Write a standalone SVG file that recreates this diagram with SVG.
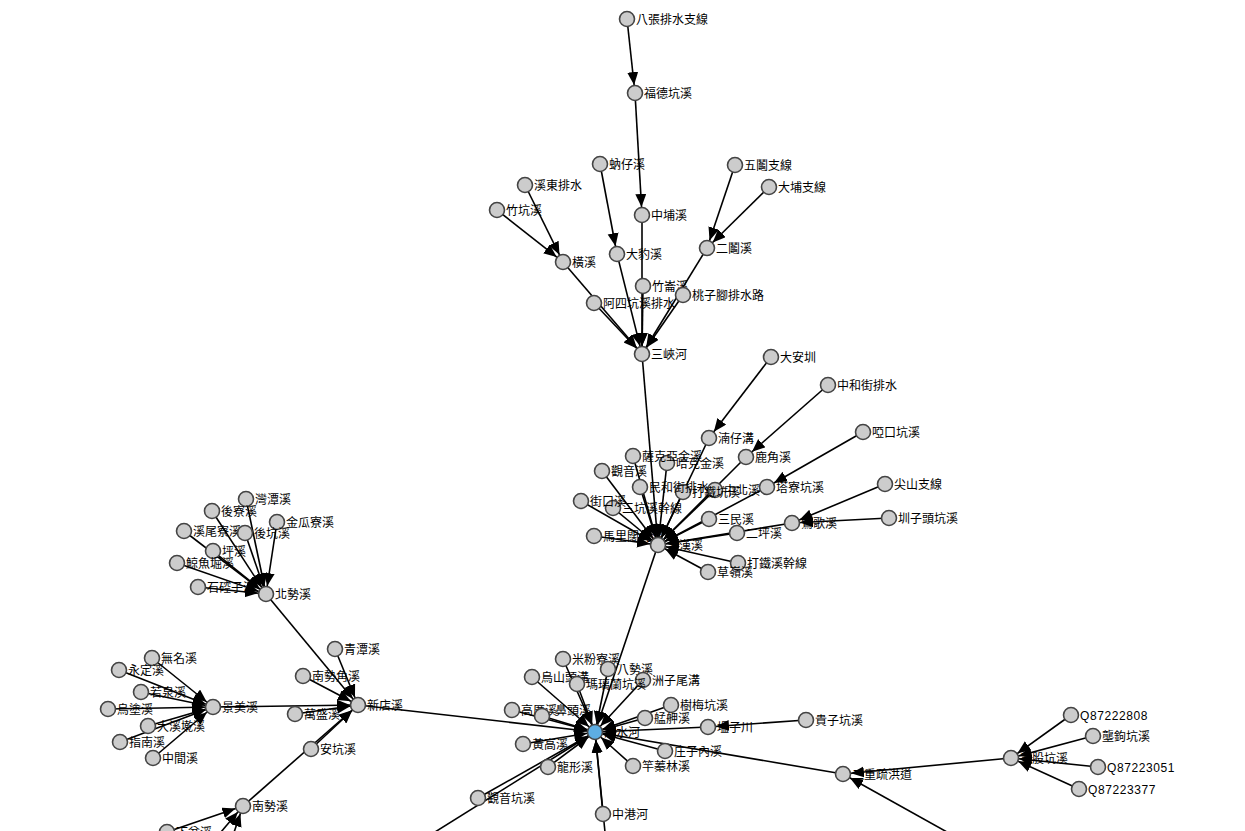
<svg xmlns="http://www.w3.org/2000/svg" width="1245" height="831" viewBox="0 0 1245 831">
<style>
.e{stroke:#000;stroke-width:1.6;fill:none;marker-end:url(#ah)}
.n circle{fill:#cccccc;stroke:#444;stroke-width:1.6}
.n text{font-family:"Noto Sans CJK TC","Noto Sans CJK SC",sans-serif;font-size:12px;fill:#000}
.n text.q{font-family:"Liberation Sans",Arial,sans-serif;letter-spacing:0.6px}
#n_danshui circle{fill:#5dade2}
</style>
<defs>
<marker id="ah" markerUnits="userSpaceOnUse" markerWidth="24" markerHeight="14" refX="21" refY="5.5" orient="auto">
<path d="M0,0 L13,5.5 L0,11 z" fill="#000"/>
</marker>
</defs>
<rect width="1245" height="831" fill="#fff"/>
<g id="edges">
<line class="e" x1="627" y1="19" x2="635" y2="93"/>
<line class="e" x1="635" y1="93" x2="642" y2="215"/>
<line class="e" x1="600" y1="164" x2="617" y2="254"/>
<line class="e" x1="735" y1="165" x2="707" y2="248"/>
<line class="e" x1="769" y1="187" x2="707" y2="248"/>
<line class="e" x1="525" y1="185" x2="563" y2="262"/>
<line class="e" x1="497" y1="210" x2="563" y2="262"/>
<line class="e" x1="642" y1="215" x2="642" y2="354"/>
<line class="e" x1="617" y1="254" x2="642" y2="354"/>
<line class="e" x1="563" y1="262" x2="642" y2="354"/>
<line class="e" x1="594" y1="303" x2="642" y2="354"/>
<line class="e" x1="643" y1="286" x2="642" y2="354"/>
<line class="e" x1="707" y1="248" x2="642" y2="354"/>
<line class="e" x1="683" y1="295" x2="642" y2="354"/>
<line class="e" x1="642" y1="354" x2="658" y2="545"/>
<line class="e" x1="771" y1="357" x2="709" y2="438"/>
<line class="e" x1="828" y1="385" x2="746" y2="457"/>
<line class="e" x1="863" y1="432" x2="767" y2="487"/>
<line class="e" x1="885" y1="484" x2="792" y2="523"/>
<line class="e" x1="889" y1="518" x2="792" y2="523"/>
<line class="e" x1="709" y1="438" x2="658" y2="545"/>
<line class="e" x1="746" y1="457" x2="658" y2="545"/>
<line class="e" x1="767" y1="487" x2="658" y2="545"/>
<line class="e" x1="792" y1="523" x2="658" y2="545"/>
<line class="e" x1="737" y1="533" x2="658" y2="545"/>
<line class="e" x1="709" y1="519" x2="658" y2="545"/>
<line class="e" x1="738" y1="563" x2="658" y2="545"/>
<line class="e" x1="708" y1="572" x2="658" y2="545"/>
<line class="e" x1="633" y1="456" x2="658" y2="545"/>
<line class="e" x1="667" y1="463" x2="658" y2="545"/>
<line class="e" x1="602" y1="471" x2="658" y2="545"/>
<line class="e" x1="640" y1="487" x2="658" y2="545"/>
<line class="e" x1="683" y1="492" x2="658" y2="545"/>
<line class="e" x1="715" y1="490" x2="658" y2="545"/>
<line class="e" x1="581" y1="501" x2="658" y2="545"/>
<line class="e" x1="613" y1="508" x2="658" y2="545"/>
<line class="e" x1="594" y1="536" x2="658" y2="545"/>
<line class="e" x1="658" y1="545" x2="595" y2="732"/>
<line class="e" x1="246" y1="499" x2="266" y2="594"/>
<line class="e" x1="212" y1="511" x2="266" y2="594"/>
<line class="e" x1="277" y1="522" x2="266" y2="594"/>
<line class="e" x1="184" y1="531" x2="266" y2="594"/>
<line class="e" x1="245" y1="533" x2="266" y2="594"/>
<line class="e" x1="213" y1="551" x2="266" y2="594"/>
<line class="e" x1="177" y1="563" x2="266" y2="594"/>
<line class="e" x1="198" y1="587" x2="266" y2="594"/>
<line class="e" x1="266" y1="594" x2="358" y2="705"/>
<line class="e" x1="152" y1="658" x2="213" y2="707"/>
<line class="e" x1="119" y1="670" x2="213" y2="707"/>
<line class="e" x1="141" y1="692" x2="213" y2="707"/>
<line class="e" x1="108" y1="709" x2="213" y2="707"/>
<line class="e" x1="148" y1="726" x2="213" y2="707"/>
<line class="e" x1="120" y1="742" x2="213" y2="707"/>
<line class="e" x1="153" y1="758" x2="213" y2="707"/>
<line class="e" x1="213" y1="707" x2="358" y2="705"/>
<line class="e" x1="335" y1="649" x2="358" y2="705"/>
<line class="e" x1="303" y1="676" x2="358" y2="705"/>
<line class="e" x1="295" y1="714" x2="358" y2="705"/>
<line class="e" x1="311" y1="749" x2="358" y2="705"/>
<line class="e" x1="243" y1="806" x2="358" y2="705"/>
<line class="e" x1="167" y1="832" x2="243" y2="806"/>
<line class="e" x1="210" y1="845" x2="243" y2="806"/>
<line class="e" x1="228" y1="850" x2="243" y2="806"/>
<line class="e" x1="358" y1="705" x2="595" y2="732"/>
<line class="e" x1="563" y1="659" x2="595" y2="732"/>
<line class="e" x1="608" y1="669" x2="595" y2="732"/>
<line class="e" x1="532" y1="677" x2="595" y2="732"/>
<line class="e" x1="577" y1="684" x2="595" y2="732"/>
<line class="e" x1="643" y1="680" x2="595" y2="732"/>
<line class="e" x1="671" y1="705" x2="595" y2="732"/>
<line class="e" x1="645" y1="718" x2="595" y2="732"/>
<line class="e" x1="512" y1="710" x2="595" y2="732"/>
<line class="e" x1="542" y1="716" x2="595" y2="732"/>
<line class="e" x1="523" y1="744" x2="595" y2="732"/>
<line class="e" x1="548" y1="767" x2="595" y2="732"/>
<line class="e" x1="478" y1="798" x2="595" y2="732"/>
<line class="e" x1="435" y1="832" x2="595" y2="732"/>
<line class="e" x1="603" y1="814" x2="595" y2="732"/>
<line class="e" x1="605" y1="832" x2="595" y2="732"/>
<line class="e" x1="633" y1="766" x2="595" y2="732"/>
<line class="e" x1="665" y1="751" x2="595" y2="732"/>
<line class="e" x1="708" y1="727" x2="595" y2="732"/>
<line class="e" x1="843" y1="774" x2="595" y2="732"/>
<line class="e" x1="806" y1="720" x2="708" y2="727"/>
<line class="e" x1="1011" y1="758" x2="843" y2="774"/>
<line class="e" x1="947" y1="832" x2="843" y2="774"/>
<line class="e" x1="1071" y1="715" x2="1011" y2="758"/>
<line class="e" x1="1093" y1="736" x2="1011" y2="758"/>
<line class="e" x1="1098" y1="767" x2="1011" y2="758"/>
<line class="e" x1="1079" y1="789" x2="1011" y2="758"/>
</g>
<g id="n_bazhang" class="n"><circle cx="627" cy="19" r="7.5"/><text x="636" y="24">八張排水支線</text></g>
<g id="n_fude" class="n"><circle cx="635" cy="93" r="7.5"/><text x="644" y="98">福德坑溪</text></g>
<g id="n_ruizai" class="n"><circle cx="600" cy="164" r="7.5"/><text x="609" y="169">蚋仔溪</text></g>
<g id="n_wujiu" class="n"><circle cx="735" cy="165" r="7.5"/><text x="744" y="170">五鬮支線</text></g>
<g id="n_xidong" class="n"><circle cx="525" cy="185" r="7.5"/><text x="534" y="190">溪東排水</text></g>
<g id="n_dapu" class="n"><circle cx="769" cy="187" r="7.5"/><text x="778" y="192">大埔支線</text></g>
<g id="n_zhukeng" class="n"><circle cx="497" cy="210" r="7.5"/><text x="506" y="215">竹坑溪</text></g>
<g id="n_zhongpu" class="n"><circle cx="642" cy="215" r="7.5"/><text x="651" y="220">中埔溪</text></g>
<g id="n_erjiu" class="n"><circle cx="707" cy="248" r="7.5"/><text x="716" y="253">二鬮溪</text></g>
<g id="n_dabao" class="n"><circle cx="617" cy="254" r="7.5"/><text x="626" y="259">大豹溪</text></g>
<g id="n_hengxi" class="n"><circle cx="563" cy="262" r="7.5"/><text x="572" y="267">橫溪</text></g>
<g id="n_zhulun" class="n"><circle cx="643" cy="286" r="7.5"/><text x="652" y="291">竹崙溪</text></g>
<g id="n_taozijiao" class="n"><circle cx="683" cy="295" r="7.5"/><text x="692" y="300">桃子腳排水路</text></g>
<g id="n_asikeng" class="n"><circle cx="594" cy="303" r="7.5"/><text x="603" y="308">阿四坑溪排水</text></g>
<g id="n_sanxia" class="n"><circle cx="642" cy="354" r="7.5"/><text x="651" y="359">三峽河</text></g>
<g id="n_daan" class="n"><circle cx="771" cy="357" r="7.5"/><text x="780" y="362">大安圳</text></g>
<g id="n_zhonghe" class="n"><circle cx="828" cy="385" r="7.5"/><text x="837" y="390">中和街排水</text></g>
<g id="n_yakou" class="n"><circle cx="863" cy="432" r="7.5"/><text x="872" y="437">啞口坑溪</text></g>
<g id="n_nanzai" class="n"><circle cx="709" cy="438" r="7.5"/><text x="718" y="443">湳仔溝</text></g>
<g id="n_lujiao" class="n"><circle cx="746" cy="457" r="7.5"/><text x="755" y="462">鹿角溪</text></g>
<g id="n_hakejin" class="n"><circle cx="667" cy="463" r="7.5"/><text x="676" y="468">哈克金溪</text></g>
<g id="n_sakeya" class="n"><circle cx="633" cy="456" r="7.5"/><text x="642" y="461">薩克亞金溪</text></g>
<g id="n_guanyin" class="n"><circle cx="602" cy="471" r="7.5"/><text x="611" y="476">觀音溪</text></g>
<g id="n_beixi" class="n"><circle cx="715" cy="490" r="7.5"/><text x="724" y="495">中北溪</text></g>
<g id="n_datiekeng" class="n"><circle cx="683" cy="492" r="7.5"/><text x="692" y="497">打鐵坑溪</text></g>
<g id="n_minhe" class="n"><circle cx="640" cy="487" r="7.5"/><text x="649" y="492">民和街排水</text></g>
<g id="n_taliao" class="n"><circle cx="767" cy="487" r="7.5"/><text x="776" y="492">塔寮坑溪</text></g>
<g id="n_jianshan" class="n"><circle cx="885" cy="484" r="7.5"/><text x="894" y="489">尖山支線</text></g>
<g id="n_sankeng" class="n"><circle cx="613" cy="508" r="7.5"/><text x="622" y="513">三坑溪幹線</text></g>
<g id="n_jiekou" class="n"><circle cx="581" cy="501" r="7.5"/><text x="590" y="506">街口溪</text></g>
<g id="n_sanmin" class="n"><circle cx="709" cy="519" r="7.5"/><text x="718" y="524">三民溪</text></g>
<g id="n_zhuntou" class="n"><circle cx="889" cy="518" r="7.5"/><text x="898" y="523">圳子頭坑溪</text></g>
<g id="n_erping" class="n"><circle cx="737" cy="533" r="7.5"/><text x="746" y="538">二坪溪</text></g>
<g id="n_yingge" class="n"><circle cx="792" cy="523" r="7.5"/><text x="801" y="528">鶯歌溪</text></g>
<g id="n_maliku" class="n"><circle cx="594" cy="536" r="7.5"/><text x="603" y="541">馬里闊丸溪</text></g>
<g id="n_datie" class="n"><circle cx="738" cy="563" r="7.5"/><text x="747" y="568">打鐵溪幹線</text></g>
<g id="n_caoling" class="n"><circle cx="708" cy="572" r="7.5"/><text x="717" y="577">草嶺溪</text></g>
<g id="n_dahan" class="n"><circle cx="658" cy="545" r="7.5"/><text x="667" y="550">大漢溪</text></g>
<g id="n_wantan" class="n"><circle cx="246" cy="499" r="7.5"/><text x="255" y="504">灣潭溪</text></g>
<g id="n_houliao" class="n"><circle cx="212" cy="511" r="7.5"/><text x="221" y="516">後寮溪</text></g>
<g id="n_jingua" class="n"><circle cx="277" cy="522" r="7.5"/><text x="286" y="527">金瓜寮溪</text></g>
<g id="n_xiwei" class="n"><circle cx="184" cy="531" r="7.5"/><text x="193" y="536">溪尾寮溪</text></g>
<g id="n_houkeng" class="n"><circle cx="245" cy="533" r="7.5"/><text x="254" y="538">後坑溪</text></g>
<g id="n_ping" class="n"><circle cx="213" cy="551" r="7.5"/><text x="222" y="556">坪溪</text></g>
<g id="n_jingyu" class="n"><circle cx="177" cy="563" r="7.5"/><text x="186" y="568">鯨魚堀溪</text></g>
<g id="n_shikong" class="n"><circle cx="198" cy="587" r="7.5"/><text x="207" y="592">石硿子溪</text></g>
<g id="n_beishi" class="n"><circle cx="266" cy="594" r="7.5"/><text x="275" y="599">北勢溪</text></g>
<g id="n_wuming" class="n"><circle cx="152" cy="658" r="7.5"/><text x="161" y="663">無名溪</text></g>
<g id="n_yongding" class="n"><circle cx="119" cy="670" r="7.5"/><text x="128" y="675">永定溪</text></g>
<g id="n_ruoquan" class="n"><circle cx="141" cy="692" r="7.5"/><text x="150" y="697">若泉溪</text></g>
<g id="n_wutu" class="n"><circle cx="108" cy="709" r="7.5"/><text x="117" y="714">烏塗溪</text></g>
<g id="n_daxiqian" class="n"><circle cx="148" cy="726" r="7.5"/><text x="157" y="731">大溪墘溪</text></g>
<g id="n_zhinan" class="n"><circle cx="120" cy="742" r="7.5"/><text x="129" y="747">指南溪</text></g>
<g id="n_zhongjian" class="n"><circle cx="153" cy="758" r="7.5"/><text x="162" y="763">中間溪</text></g>
<g id="n_jingmei" class="n"><circle cx="213" cy="707" r="7.5"/><text x="222" y="712">景美溪</text></g>
<g id="n_qingtan" class="n"><circle cx="335" cy="649" r="7.5"/><text x="344" y="654">青潭溪</text></g>
<g id="n_nanshijiao" class="n"><circle cx="303" cy="676" r="7.5"/><text x="312" y="681">南勢角溪</text></g>
<g id="n_wansheng" class="n"><circle cx="295" cy="714" r="7.5"/><text x="304" y="719">萬盛溪</text></g>
<g id="n_ankeng" class="n"><circle cx="311" cy="749" r="7.5"/><text x="320" y="754">安坑溪</text></g>
<g id="n_nanshi" class="n"><circle cx="243" cy="806" r="7.5"/><text x="252" y="811">南勢溪</text></g>
<g id="n_xiapen" class="n"><circle cx="167" cy="832" r="7.5"/><text x="176" y="837">下盆溪</text></g>
<g id="n_xindian" class="n"><circle cx="358" cy="705" r="7.5"/><text x="367" y="710">新店溪</text></g>
<g id="n_mifen" class="n"><circle cx="563" cy="659" r="7.5"/><text x="572" y="664">米粉寮溪</text></g>
<g id="n_bashi" class="n"><circle cx="608" cy="669" r="7.5"/><text x="617" y="674">八勢溪</text></g>
<g id="n_wushan" class="n"><circle cx="532" cy="677" r="7.5"/><text x="541" y="682">烏山頭溝</text></g>
<g id="n_zhouziwei" class="n"><circle cx="643" cy="680" r="7.5"/><text x="652" y="685">洲子尾溝</text></g>
<g id="n_maliulan" class="n"><circle cx="577" cy="684" r="7.5"/><text x="586" y="689">瑪璃蘭坑溪</text></g>
<g id="n_shumei" class="n"><circle cx="671" cy="705" r="7.5"/><text x="680" y="710">樹梅坑溪</text></g>
<g id="n_gaocuo" class="n"><circle cx="512" cy="710" r="7.5"/><text x="521" y="715">高厝溪</text></g>
<g id="n_bitou" class="n"><circle cx="542" cy="716" r="7.5"/><text x="555" y="715">鼻頭溪</text></g>
<g id="n_mengjia" class="n"><circle cx="645" cy="718" r="7.5"/><text x="654" y="723">艋舺溪</text></g>
<g id="n_wenzi" class="n"><circle cx="708" cy="727" r="7.5"/><text x="717" y="732">塭子川</text></g>
<g id="n_guizi" class="n"><circle cx="806" cy="720" r="7.5"/><text x="815" y="725">貴子坑溪</text></g>
<g id="n_huanggao" class="n"><circle cx="523" cy="744" r="7.5"/><text x="532" y="749">黃高溪</text></g>
<g id="n_zhuangzi" class="n"><circle cx="665" cy="751" r="7.5"/><text x="674" y="756">庄子內溪</text></g>
<g id="n_longxing" class="n"><circle cx="548" cy="767" r="7.5"/><text x="557" y="772">龍形溪</text></g>
<g id="n_ganzhen" class="n"><circle cx="633" cy="766" r="7.5"/><text x="642" y="771">竿蓁林溪</text></g>
<g id="n_guanyinkeng" class="n"><circle cx="478" cy="798" r="7.5"/><text x="487" y="803">觀音坑溪</text></g>
<g id="n_zhonggang" class="n"><circle cx="603" cy="814" r="7.5"/><text x="612" y="819">中港河</text></g>
<g id="n_danshui" class="n"><circle cx="595" cy="732" r="7.5"/><text x="604" y="737">淡水河</text></g>
<g id="n_erchong" class="n"><circle cx="843" cy="774" r="7.5"/><text x="852" y="779">二重疏洪道</text></g>
<g id="n_wugu" class="n"><circle cx="1011" cy="758" r="7.5"/><text x="1020" y="763">五股坑溪</text></g>
<g id="n_q808" class="n"><circle cx="1071" cy="715" r="7.5"/><text class="q" x="1080" y="720">Q87222808</text></g>
<g id="n_longgou" class="n"><circle cx="1093" cy="736" r="7.5"/><text x="1102" y="741">壟鉤坑溪</text></g>
<g id="n_q051" class="n"><circle cx="1098" cy="767" r="7.5"/><text class="q" x="1107" y="772">Q87223051</text></g>
<g id="n_q377" class="n"><circle cx="1079" cy="789" r="7.5"/><text class="q" x="1088" y="794">Q87223377</text></g>
</svg>
